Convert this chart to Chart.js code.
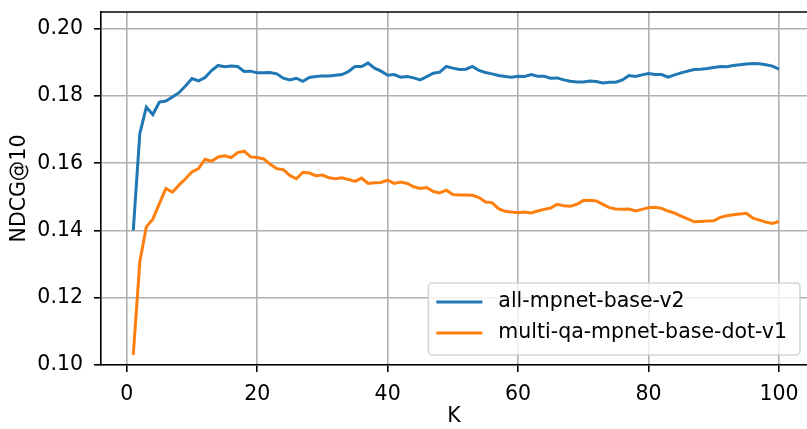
<!DOCTYPE html>
<html>
<head>
<meta charset="utf-8">
<script src="https://cdn.jsdelivr.net/npm/chart.js@4.4.0/dist/chart.umd.min.js"></script>
<style>
  html, body { margin: 0; padding: 0; background: #fff; }
  #chart { display: block; }
</style>
</head>
<body>
<canvas id="chart" width="807" height="429"></canvas>
<script>
// K = 1..100
const kValues = Array.from({ length: 100 }, (_, i) => i + 1);

const allMpnetBaseV2 = [
  0.1400, 0.1688, 0.1767, 0.1745, 0.1782, 0.1785, 0.1797, 0.1810, 0.1830, 0.1852,
  0.1845, 0.1855, 0.1876, 0.1891, 0.1887, 0.1889, 0.1888, 0.1873, 0.1874, 0.1869,
  0.1869, 0.1870, 0.1866, 0.1853, 0.1848, 0.1853, 0.1844, 0.1855, 0.1858, 0.1860,
  0.1860, 0.1862, 0.1864, 0.1873, 0.1888, 0.1888, 0.1898, 0.1883, 0.1874, 0.1862,
  0.1864, 0.1856, 0.1858, 0.1854, 0.1848, 0.1858, 0.1868, 0.1871, 0.1888, 0.1883,
  0.1879, 0.1880, 0.1888, 0.1876, 0.1870, 0.1866, 0.1861, 0.1858, 0.1856, 0.1859,
  0.1858, 0.1864, 0.1859, 0.1859, 0.1853, 0.1854, 0.1848, 0.1844, 0.1842, 0.1842,
  0.1845, 0.1843, 0.1839, 0.1841, 0.1841, 0.1848, 0.1861, 0.1858, 0.1863, 0.1867,
  0.1864, 0.1864, 0.1856, 0.1863, 0.1869, 0.1874, 0.1879, 0.1880, 0.1882, 0.1885,
  0.1888, 0.1887, 0.1891, 0.1893, 0.1895, 0.1897, 0.1896, 0.1893, 0.1889, 0.1880
];

const multiQaMpnetBaseDotV1 = [
  0.1030, 0.1307, 0.1411, 0.1434, 0.1480, 0.1525, 0.1514, 0.1535, 0.1554, 0.1574,
  0.1584, 0.1612, 0.1606, 0.1619, 0.1622, 0.1617, 0.1632, 0.1636, 0.1619, 0.1617,
  0.1613, 0.1597, 0.1584, 0.1581, 0.1564, 0.1554, 0.1573, 0.1571, 0.1563, 0.1565,
  0.1557, 0.1554, 0.1557, 0.1552, 0.1546, 0.1556, 0.1540, 0.1542, 0.1543, 0.1550,
  0.1540, 0.1544, 0.1540, 0.1530, 0.1525, 0.1528, 0.1516, 0.1512, 0.1520, 0.1507,
  0.1506, 0.1506, 0.1505, 0.1498, 0.1485, 0.1483, 0.1465, 0.1457, 0.1455, 0.1453,
  0.1455, 0.1452, 0.1458, 0.1463, 0.1467, 0.1478, 0.1474, 0.1472, 0.1478, 0.1489,
  0.1490, 0.1488, 0.1478, 0.1468, 0.1464, 0.1463, 0.1464, 0.1458, 0.1463, 0.1468,
  0.1469, 0.1466, 0.1458, 0.1452, 0.1443, 0.1435, 0.1426, 0.1427, 0.1428, 0.1429,
  0.1439, 0.1444, 0.1447, 0.1449, 0.1451, 0.1437, 0.1431, 0.1425, 0.1421, 0.1427
];

const seriesLabels = ["all-mpnet-base-v2", "multi-qa-mpnet-base-dot-v1"];
const xTicks = [0, 20, 40, 60, 80, 100];
const yTicks = [0.10, 0.12, 0.14, 0.16, 0.18, 0.20];

const FONT = { family: "'DejaVu Sans', sans-serif", size: 20.5 };
const BLUE = "#1f77b4";
const ORANGE = "#ff7f0e";
const GRID = "#b0b0b0";

// top spine (matplotlib box); right spine falls outside the picture
const framePlugin = {
  id: "frame",
  afterDatasetsDraw(chart) {
    const { ctx, chartArea } = chart;
    ctx.save();
    ctx.strokeStyle = "#000";
    ctx.lineWidth = 1.6;
    ctx.beginPath();
    ctx.moveTo(chartArea.left, chartArea.top);
    ctx.lineTo(chartArea.right, chartArea.top);
    ctx.stroke();
    ctx.restore();
  }
};

// legend box in the lower right corner of the plot
const insideLegend = {
  id: "insideLegend",
  afterDraw(chart) {
    const { ctx, chartArea } = chart;
    const sets = chart.data.datasets;
    ctx.save();
    ctx.font = `${FONT.size}px ${FONT.family}`;
    const textW = Math.max(...sets.map(d => ctx.measureText(d.label).width));
    const padL = 8, handle = 46, gap = 16, padR = 13;
    const w = padL + handle + gap + textW + padR;
    const h = 72;
    const right = chartArea.right - 7;
    const bottom = chartArea.bottom - 10;
    const x = right - w, y = bottom - h;

    ctx.beginPath();
    ctx.roundRect(x, y, w, h, 4);
    ctx.fillStyle = "rgba(255,255,255,0.8)";
    ctx.fill();
    ctx.strokeStyle = "rgba(204,204,204,0.8)";
    ctx.lineWidth = 1.6;
    ctx.stroke();

    const rows = [y + 19, y + 50];
    sets.forEach((d, i) => {
      ctx.strokeStyle = d.borderColor;
      ctx.lineWidth = 3;
      ctx.beginPath();
      ctx.moveTo(x + padL, rows[i]);
      ctx.lineTo(x + padL + handle, rows[i]);
      ctx.stroke();
      ctx.fillStyle = "#000";
      ctx.textBaseline = "middle";
      ctx.textAlign = "left";
      ctx.fillText(d.label, x + padL + handle + gap, rows[i]);
    });
    ctx.restore();
  }
};

new Chart(document.getElementById("chart"), {
  type: "line",
  data: {
    datasets: [
      {
        label: seriesLabels[0],
        data: kValues.map((k, i) => ({ x: k, y: allMpnetBaseV2[i] })),
        borderColor: BLUE,
        borderWidth: 3,
        pointRadius: 0,
        tension: 0
      },
      {
        label: seriesLabels[1],
        data: kValues.map((k, i) => ({ x: k, y: multiQaMpnetBaseDotV1[i] })),
        borderColor: ORANGE,
        borderWidth: 3,
        pointRadius: 0,
        tension: 0
      }
    ]
  },
  options: {
    responsive: false,
    animation: false,
    devicePixelRatio: 1,
    layout: { padding: { top: 12, right: 0, bottom: 0, left: 0 } },
    plugins: {
      legend: { display: false },
      tooltip: { enabled: false }
    },
    scales: {
      x: {
        type: "linear",
        min: -3.95,
        max: 104.3,
        afterFit: s => { s.height = 64; s.paddingLeft = 0; s.paddingRight = 0; },
        afterBuildTicks: s => { s.ticks = xTicks.map(v => ({ value: v })); },
        grid: { color: GRID, lineWidth: 1.6, tickColor: "#000", tickLength: 7 },
        border: { color: "#000", width: 1.6 },
        ticks: { color: "#000", font: FONT, padding: 10, maxRotation: 0 },
        title: {
          display: true, text: "K", color: "#000",
          font: { ...FONT, lineHeight: 1 }, padding: { top: 0, bottom: 2 }
        }
      },
      y: {
        min: 0.10,
        max: 0.205,
        afterFit: s => { s.width = 101; s.paddingTop = 0; s.paddingBottom = 0; },
        afterBuildTicks: s => { s.ticks = yTicks.map(v => ({ value: v })); },
        grid: { color: GRID, lineWidth: 1.6, tickColor: "#000", tickLength: 7 },
        border: { color: "#000", width: 1.6 },
        ticks: { color: "#000", font: FONT, padding: 11, callback: v => v.toFixed(2) },
        title: {
          display: true, text: "NDCG@10", color: "#000",
          font: { ...FONT, lineHeight: 1 }, padding: { top: 9, bottom: 0 }
        }
      }
    }
  },
  plugins: [framePlugin, insideLegend]
});
</script>
</body>
</html>
